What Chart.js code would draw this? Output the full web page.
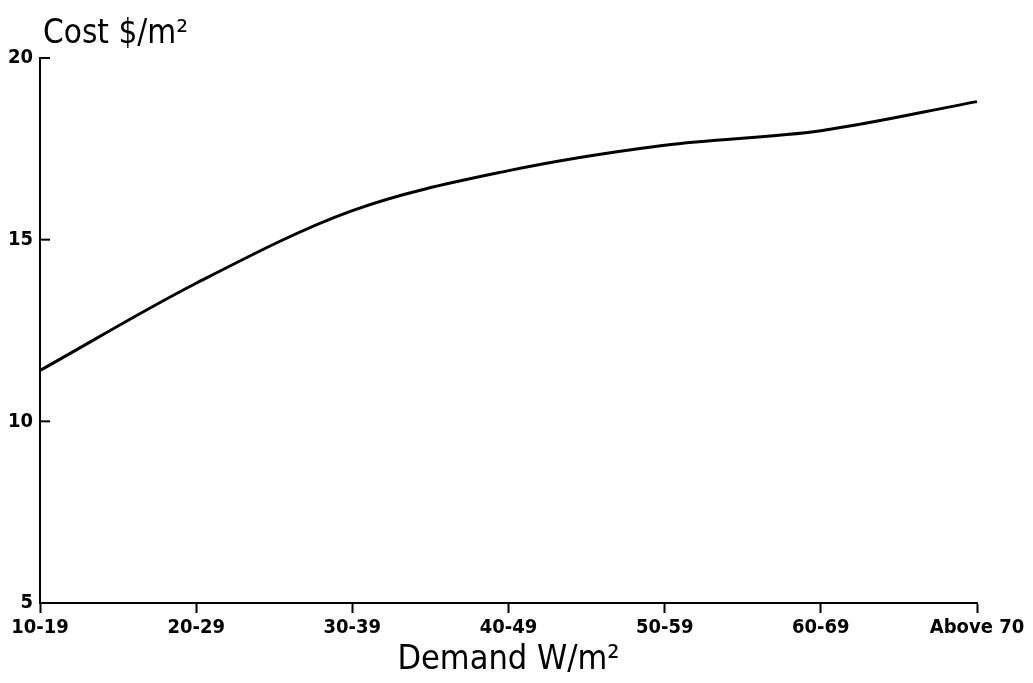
<!DOCTYPE html>
<html>
<head>
<meta charset="utf-8">
<script src="https://cdn.jsdelivr.net/npm/chart.js@4/dist/chart.umd.min.js"></script>
<style>
  html, body { margin: 0; padding: 0; background: #fff; }
  #wrap { width: 1033px; height: 683px; position: relative; }
</style>
</head>
<body>
<div id="wrap"><canvas id="c" width="1033" height="683"></canvas></div>
<script>
const categories = ["10-19", "20-29", "30-39", "40-49", "50-59", "60-69", "Above 70"];
const costValues = [11.4, 13.8, 15.8, 16.9, 17.6, 18.0, 18.8];
const yTickValues = [5, 10, 15, 20];
const yAxisTitle = "Cost $/m\u00B2";
const xAxisTitle = "Demand W/m\u00B2";

const fam = '"DejaVu Sans Condensed", "Liberation Sans Narrow", sans-serif';

const extras = {
  id: 'extras',
  afterDraw(chart) {
    const ctx = chart.ctx;
    const y = chart.scales.y;
    const area = chart.chartArea;
    ctx.save();
    ctx.strokeStyle = '#000';
    ctx.lineWidth = 2;
    yTickValues.forEach(v => {
      const py = y.getPixelForValue(v);
      ctx.beginPath();
      ctx.moveTo(area.left, py);
      ctx.lineTo(area.left + 10, py);
      ctx.stroke();
    });
    ctx.fillStyle = '#000';
    ctx.font = '33px ' + fam;
    ctx.textAlign = 'left';
    ctx.textBaseline = 'alphabetic';
    ctx.fillText(yAxisTitle, area.left + 3, 43);
    ctx.restore();
  }
};

new Chart(document.getElementById('c'), {
  type: 'line',
  data: {
    labels: categories,
    datasets: [{
      data: costValues,
      borderColor: '#000',
      borderWidth: 3,
      pointRadius: 0,
      tension: 0.4,
      cubicInterpolationMode: 'monotone',
      fill: false
    }]
  },
  options: {
    responsive: false,
    animation: false,
    devicePixelRatio: 1,
    layout: { padding: { top: 58, right: 56, left: 0, bottom: 0 } },
    plugins: { legend: { display: false }, tooltip: { enabled: false } },
    scales: {
      x: {
        offset: false,
        border: { display: true, color: '#000', width: 2 },
        grid: { drawOnChartArea: false, drawTicks: true, tickLength: 10, tickColor: '#000', tickWidth: 2 },
        ticks: {
          color: '#000',
          padding: 3,
          maxRotation: 0,
          autoSkip: false,
          font: { family: fam, size: 20, weight: 'bold' }
        },
        title: {
          display: true,
          text: xAxisTitle,
          color: '#000',
          padding: { top: 0, bottom: 2 },
          font: { family: fam, size: 34 }
        },
        afterFit(scale) { scale.height = 80; }
      },
      y: {
        min: 5,
        max: 20,
        border: { display: true, color: '#000', width: 2 },
        grid: { drawOnChartArea: false, drawTicks: false },
        afterBuildTicks(scale) { scale.ticks = yTickValues.map(v => ({ value: v })); },
        ticks: {
          color: '#000',
          padding: 7,
          font: { family: fam, size: 20, weight: 'bold' }
        },
        afterFit(scale) { scale.width = 40; }
      }
    }
  },
  plugins: [extras]
});
</script>
</body>
</html>
